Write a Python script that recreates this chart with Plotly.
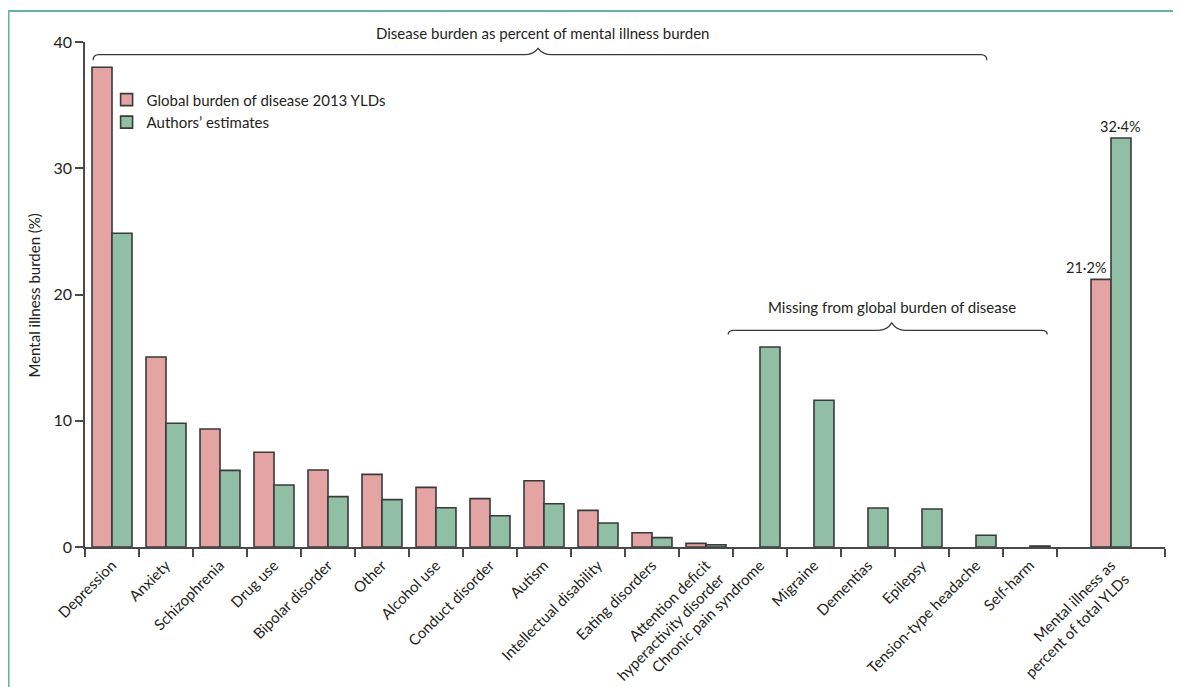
import plotly.graph_objects as go

categories = [
    "Depression", "Anxiety", "Schizophrenia", "Drug use", "Bipolar disorder",
    "Other", "Alcohol use", "Conduct disorder", "Autism", "Intellectual disability",
    "Eating disorders", "Attention deficit<br>hyperactivity disorder",
    "Chronic pain syndrome", "Migraine", "Dementias", "Epilepsy",
    "Tension-type headache", "Self-harm", "Mental illness as<br>percent of total YLDs",
]
gbd_2013 = [38.0, 15.05, 9.35, 7.5, 6.1, 5.75, 4.72, 3.83, 5.25, 2.9, 1.13, 0.29,
            None, None, None, None, None, None, 21.2]
authors = [24.85, 9.8, 6.07, 4.91, 3.99, 3.75, 3.11, 2.48, 3.43, 1.9, 0.74, 0.18,
           15.84, 11.62, 3.09, 3.01, 0.93, 0.08, 32.4]
y_ticks = [0, 10, 20, 30, 40]

FONT = "Lato"
TXT = "#231f20"
PINK = "#e3a4a3"
GREEN = "#90bfa6"
EDGE = "#3a3a3a"
FRAME = "#66b594"

n = len(categories)
# last category occupies a double-width slot
xpos = list(range(n - 1)) + [n - 0.5]
bounds = [i - 0.5 for i in range(n)] + [n + 0.5]
BW = 0.37

fig = go.Figure()
fig.add_trace(go.Bar(
    x=xpos, y=gbd_2013, name="Global burden of disease 2013 YLDs",
    width=BW, offset=-BW,
    marker=dict(color=PINK, line=dict(color=EDGE, width=1.6)),
))
fig.add_trace(go.Bar(
    x=xpos, y=authors, name="Authors\u2019 estimates",
    width=BW, offset=0,
    marker=dict(color=GREEN, line=dict(color=EDGE, width=1.6)),
))

def brace(x0, x1, xc, yline, ypeak, yend, dx=0.11, w=0.25):
    return (f"M {x0},{yend} Q {x0},{yline} {x0+dx},{yline} "
            f"L {xc-w},{yline} Q {xc-w*0.35},{yline} {xc},{ypeak} "
            f"Q {xc+w*0.35},{yline} {xc+w},{yline} "
            f"L {x1-dx},{yline} Q {x1},{yline} {x1},{yend}")

shapes = [
    dict(type="path", xref="x", yref="y",
         path=brace(-0.35, 16.2, 7.89, 39.0, 39.5, 38.55),
         line=dict(color=EDGE, width=1.3)),
    dict(type="path", xref="x", yref="y",
         path=brace(11.41, 17.32, 14.44, 17.16, 17.75, 16.84),
         line=dict(color=EDGE, width=1.3)),
    dict(type="rect", xref="paper", yref="paper",
         x0=-0.0708, x1=1.012, y0=-0.31, y1=1.0614,
         line=dict(color=FRAME, width=2), fillcolor="rgba(0,0,0,0)", layer="below"),
]

annotations = [
    dict(text="Disease burden as percent of mental illness burden",
         xref="paper", yref="paper", x=(542.5 - 85) / 1080, y=1.018,
         xanchor="center", yanchor="middle", showarrow=False,
         font=dict(family=FONT, size=15, color=TXT)),
    dict(text="Missing from global burden of disease",
         xref="x", yref="y", x=14.45, y=19.03,
         xanchor="center", yanchor="middle", showarrow=False,
         font=dict(family=FONT, size=15, color=TXT)),
    dict(text="Mental illness burden (%)",
         xref="paper", yref="paper", x=(34 - 85) / 1080, y=0.498,
         xanchor="center", yanchor="middle", textangle=-90, showarrow=False,
         font=dict(family=FONT, size=15, color=TXT)),
    dict(text=f"{gbd_2013[-1]:.1f}%".replace(".", "\u00b7"),
         xref="x", yref="y", x=xpos[-1], y=gbd_2013[-1],
         xanchor="right", yanchor="bottom", showarrow=False, yshift=1, xshift=-2,
         font=dict(family=FONT, size=14.5, color=TXT)),
    dict(text=f"{authors[-1]:.1f}%".replace(".", "\u00b7"),
         xref="x", yref="y", x=xpos[-1] + BW / 2, y=authors[-1],
         xanchor="center", yanchor="bottom", showarrow=False, yshift=1,
         font=dict(family=FONT, size=14.5, color=TXT)),
]

fig.update_layout(
    width=1173, height=679,
    margin=dict(l=77, r=16, t=34, b=140),
    paper_bgcolor="white", plot_bgcolor="white",
    font=dict(family=FONT, size=15, color=TXT),
    barmode="overlay",
    showlegend=True,
    legend=dict(x=0.02, y=0.918, xanchor="left", yanchor="top",
                bgcolor="rgba(0,0,0,0)", font=dict(family=FONT, size=15, color=TXT),
                tracegroupgap=0, itemwidth=30),
    shapes=shapes,
    annotations=annotations,
    xaxis=dict(
        range=[-0.5, n + 0.5], showgrid=False, zeroline=False,
        tickmode="array", tickvals=xpos, ticktext=categories,
        tickangle=-45, ticks="", ticklen=0, ticklabelstandoff=2,
        tickfont=dict(family=FONT, size=15, color=TXT),
        showline=True, linecolor="#4a4a4a", linewidth=1.5,
        minor=dict(tickmode="array", tickvals=bounds, ticks="outside",
                   ticklen=8, tickwidth=1.5, tickcolor="#4a4a4a", showgrid=False),
        fixedrange=True, automargin=False,
    ),
    yaxis=dict(
        range=[0, 40], showgrid=False, zeroline=False,
        tickmode="array", tickvals=y_ticks,
        ticks="outside", ticklen=8, tickwidth=1.5, tickcolor="#4a4a4a",
        tickfont=dict(family=FONT, size=16, color=TXT),
        showline=True, linecolor="#4a4a4a", linewidth=1.5,
        fixedrange=True, automargin=False,
    ),
)

fig.write_html("out.html")
